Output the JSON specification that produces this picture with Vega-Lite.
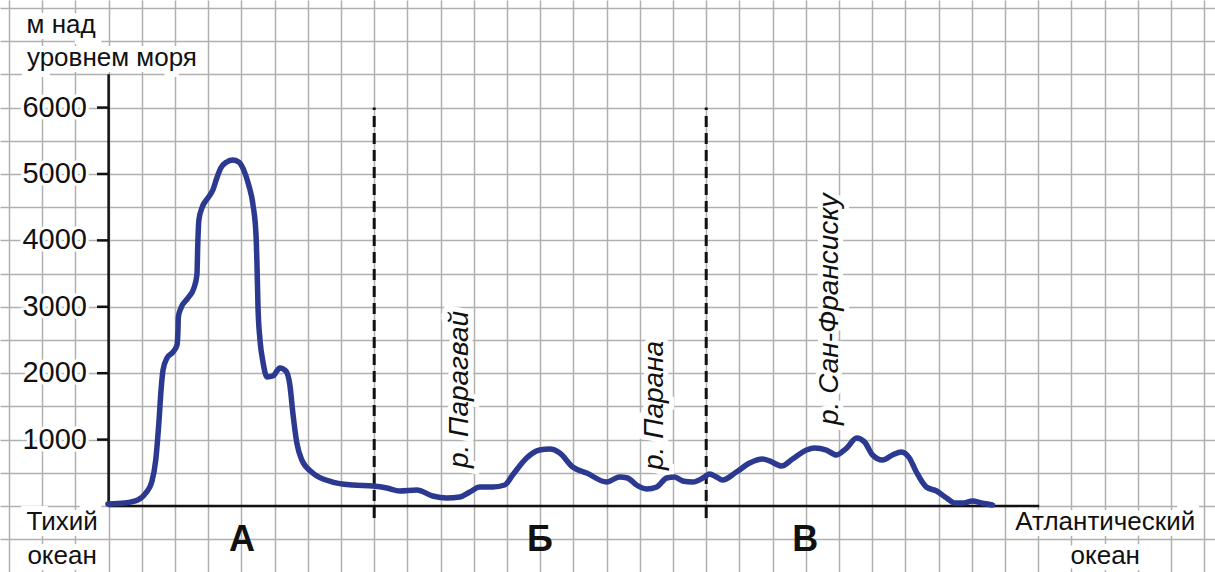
{
  "$schema": "https://vega.github.io/schema/vega-lite/v6.json",
  "width": 1215,
  "height": 572,
  "autosize": {"type": "none"},
  "padding": 0,
  "background": "white",
  "config": {
    "view": {"stroke": null},
    "font": "Liberation Sans",
    "axis": {"labels": false, "ticks": false, "domain": false, "title": null, "grid": true, "gridColor": "#b0b0b0", "gridWidth": 1.5, "gridOpacity": 1}
  },
  "datasets": {
    "profile": [
      {"x": 2.98, "elev": 30}, {"x": 3.49, "elev": 45}, {"x": 3.88, "elev": 90}, {"x": 4.12, "elev": 196},
      {"x": 4.30, "elev": 361}, {"x": 4.42, "elev": 693}, {"x": 4.52, "elev": 1295}, {"x": 4.58, "elev": 1747},
      {"x": 4.64, "elev": 2048}, {"x": 4.76, "elev": 2229}, {"x": 4.94, "elev": 2319}, {"x": 5.06, "elev": 2425},
      {"x": 5.09, "elev": 2651}, {"x": 5.10, "elev": 2846}, {"x": 5.18, "elev": 2982}, {"x": 5.39, "elev": 3132},
      {"x": 5.57, "elev": 3283}, {"x": 5.66, "elev": 3479}, {"x": 5.69, "elev": 4006}, {"x": 5.72, "elev": 4307},
      {"x": 5.81, "elev": 4488}, {"x": 5.99, "elev": 4638}, {"x": 6.14, "elev": 4759}, {"x": 6.26, "elev": 4940},
      {"x": 6.38, "elev": 5090}, {"x": 6.56, "elev": 5181}, {"x": 6.74, "elev": 5211}, {"x": 6.92, "elev": 5181},
      {"x": 7.07, "elev": 5060}, {"x": 7.22, "elev": 4834}, {"x": 7.35, "elev": 4533}, {"x": 7.44, "elev": 4081},
      {"x": 7.47, "elev": 3629}, {"x": 7.50, "elev": 2997}, {"x": 7.56, "elev": 2500}, {"x": 7.65, "elev": 2169},
      {"x": 7.77, "elev": 1943}, {"x": 7.95, "elev": 1958}, {"x": 8.16, "elev": 2078}, {"x": 8.34, "elev": 2033},
      {"x": 8.46, "elev": 1822}, {"x": 8.55, "elev": 1401}, {"x": 8.67, "elev": 949}, {"x": 8.82, "elev": 693},
      {"x": 9.15, "elev": 497}, {"x": 9.75, "elev": 361}, {"x": 10.36, "elev": 316}, {"x": 10.96, "elev": 301},
      {"x": 11.38, "elev": 271}, {"x": 11.77, "elev": 226}, {"x": 12.28, "elev": 241}, {"x": 12.76, "elev": 151},
      {"x": 13.18, "elev": 120}, {"x": 13.58, "elev": 136}, {"x": 13.88, "elev": 211}, {"x": 14.18, "elev": 286},
      {"x": 14.57, "elev": 286}, {"x": 14.93, "elev": 316}, {"x": 15.17, "elev": 467}, {"x": 15.59, "elev": 723},
      {"x": 15.98, "elev": 843}, {"x": 16.29, "elev": 858}, {"x": 16.59, "elev": 798}, {"x": 16.98, "elev": 587},
      {"x": 17.40, "elev": 497}, {"x": 18.00, "elev": 361}, {"x": 18.39, "elev": 437}, {"x": 18.63, "elev": 422},
      {"x": 18.90, "elev": 316}, {"x": 19.21, "elev": 256}, {"x": 19.51, "elev": 286}, {"x": 19.81, "elev": 422},
      {"x": 20.05, "elev": 437}, {"x": 20.29, "elev": 377}, {"x": 20.59, "elev": 361}, {"x": 20.95, "elev": 437},
      {"x": 21.10, "elev": 482}, {"x": 21.31, "elev": 437}, {"x": 21.49, "elev": 392}, {"x": 21.91, "elev": 512},
      {"x": 22.31, "elev": 648}, {"x": 22.70, "elev": 708}, {"x": 22.91, "elev": 678}, {"x": 23.27, "elev": 602},
      {"x": 23.60, "elev": 708}, {"x": 24.02, "elev": 843}, {"x": 24.26, "elev": 873}, {"x": 24.62, "elev": 843},
      {"x": 24.92, "elev": 768}, {"x": 25.23, "elev": 873}, {"x": 25.53, "elev": 1024}, {"x": 25.77, "elev": 964},
      {"x": 26.01, "elev": 768}, {"x": 26.31, "elev": 693}, {"x": 26.61, "elev": 768}, {"x": 26.88, "elev": 813},
      {"x": 27.12, "elev": 723}, {"x": 27.33, "elev": 512}, {"x": 27.63, "elev": 286}, {"x": 27.94, "elev": 226},
      {"x": 28.24, "elev": 120}, {"x": 28.48, "elev": 45}, {"x": 28.72, "elev": 45}, {"x": 29.02, "elev": 75},
      {"x": 29.29, "elev": 45}, {"x": 29.62, "elev": 15}
    ],
    "axes": [
      {"x": 3, "x2": 31.03, "y": 0, "y2": 0},
      {"x": 3, "x2": 3, "y": 0, "y2": 6500}
    ],
    "dividers": [
      {"x": 11, "y": -180, "y2": 6000},
      {"x": 21, "y": -180, "y2": 6000}
    ],
    "ticks": [
      {"x": 2.65, "x2": 3, "y": 1000, "label": "1000"},
      {"x": 2.65, "x2": 3, "y": 2000, "label": "2000"},
      {"x": 2.65, "x2": 3, "y": 3000, "label": "3000"},
      {"x": 2.65, "x2": 3, "y": 4000, "label": "4000"},
      {"x": 2.65, "x2": 3, "y": 5000, "label": "5000"},
      {"x": 2.65, "x2": 3, "y": 6000, "label": "6000"}
    ],
    "notes": [
      {"x": 1.57, "y": 7244, "text": "м над"},
      {"x": 3.1, "y": 6747, "text": "уровнем моря"},
      {"x": 1.6, "y": -241, "text": "Тихий"},
      {"x": 1.6, "y": -753, "text": "океан"},
      {"x": 33.02, "y": -241, "text": "Атлантический"},
      {"x": 33.02, "y": -753, "text": "океан"}
    ],
    "regions": [
      {"x": 7.02, "y": -512, "text": "А"},
      {"x": 15.99, "y": -512, "text": "Б"},
      {"x": 23.98, "y": -512, "text": "В"}
    ],
    "rivers": [
      {"x": 13.58, "y": 572, "text": "р. Парагвай"},
      {"x": 19.46, "y": 542, "text": "р. Парана"},
      {"x": 24.73, "y": 1220, "text": "р. Сан-Франсиску"}
    ]
  },
  "encoding": {
    "x": {"field": "x", "type": "quantitative", "scale": {"domain": [-0.271, 36.325], "nice": false, "zero": false},
      "axis": {"values": [0,1,2,3,4,5,6,7,8,9,10,11,12,13,14,15,16,17,18,19,20,21,22,23,24,25,26,27,28,29,30,31,32,33,34,35,36]}},
    "y": {"field": "y", "type": "quantitative", "scale": {"domain": [-994, 7620], "nice": false, "zero": false},
      "axis": {"values": [-500,0,500,1000,1500,2000,2500,3000,3500,4000,4500,5000,5500,6000,6500,7000,7500]}}
  },
  "layer": [
    {
      "data": {"name": "notes"},
      "mark": {"type": "text", "fontSize": 26, "align": "center", "baseline": "middle", "stroke": "white", "strokeWidth": 12, "fill": "white"},
      "encoding": {"text": {"field": "text"}}
    },
    {
      "data": {"name": "notes"},
      "mark": {"type": "text", "fontSize": 26, "align": "center", "baseline": "middle", "fill": "#111111"},
      "encoding": {"text": {"field": "text"}}
    },
    {
      "data": {"name": "rivers"},
      "mark": {"type": "text", "fontSize": 28, "fontStyle": "italic", "angle": 270, "align": "left", "baseline": "middle", "stroke": "white", "strokeWidth": 10, "fill": "white"},
      "encoding": {"text": {"field": "text"}}
    },
    {
      "data": {"name": "rivers"},
      "mark": {"type": "text", "fontSize": 28, "fontStyle": "italic", "angle": 270, "align": "left", "baseline": "middle", "fill": "#111111"},
      "encoding": {"text": {"field": "text"}}
    },
    {
      "data": {"name": "regions"},
      "mark": {"type": "text", "fontSize": 36, "fontWeight": "bold", "align": "center", "baseline": "middle", "fill": "#111111"},
      "encoding": {"text": {"field": "text"}}
    },
    {
      "data": {"name": "ticks"},
      "mark": {"type": "text", "fontSize": 29, "align": "right", "baseline": "middle", "dx": -10, "stroke": "white", "strokeWidth": 6, "fill": "white"},
      "encoding": {"text": {"field": "label"}}
    },
    {
      "data": {"name": "ticks"},
      "mark": {"type": "text", "fontSize": 29, "align": "right", "baseline": "middle", "dx": -10, "fill": "#111111"},
      "encoding": {"text": {"field": "label"}}
    },
    {
      "data": {"name": "ticks"},
      "mark": {"type": "rule", "color": "#111111", "strokeWidth": 2.5},
      "encoding": {"x2": {"field": "x2"}}
    },
    {
      "data": {"name": "axes"},
      "mark": {"type": "rule", "color": "#111111", "strokeWidth": 2.5},
      "encoding": {"x2": {"field": "x2"}, "y2": {"field": "y2"}}
    },
    {
      "data": {"name": "dividers"},
      "mark": {"type": "rule", "color": "#111111", "strokeWidth": 3, "strokeDash": [11, 6]},
      "encoding": {"y2": {"field": "y2"}}
    },
    {
      "data": {"name": "profile"},
      "mark": {"type": "line", "color": "#2b3990", "strokeWidth": 5.5, "interpolate": "monotone", "strokeCap": "round", "strokeJoin": "round"},
      "encoding": {"y": {"field": "elev", "type": "quantitative"}}
    }
  ]
}
